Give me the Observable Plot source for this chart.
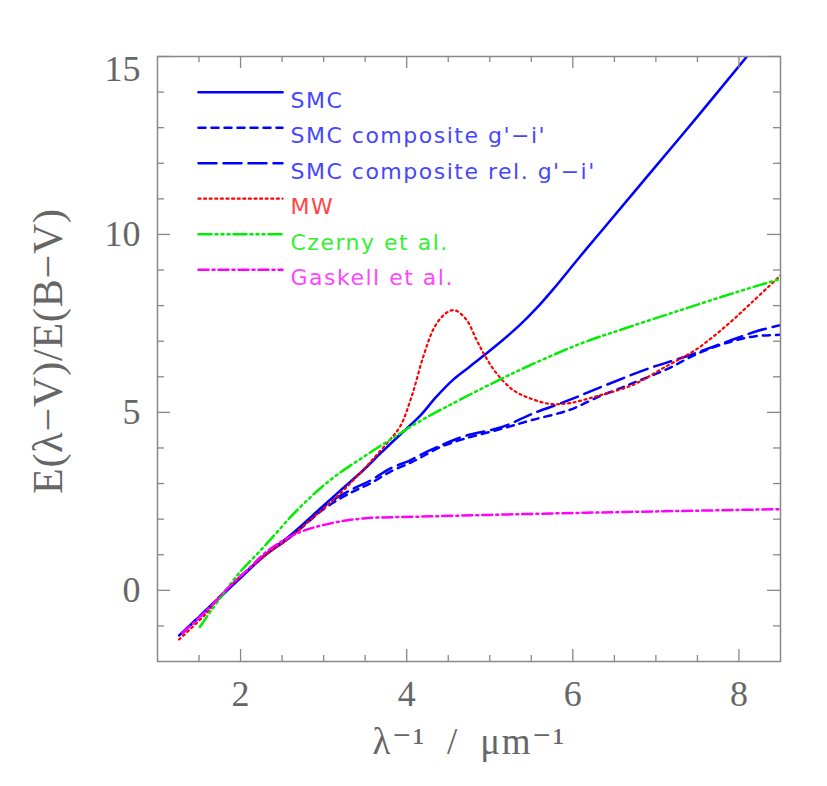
<!DOCTYPE html>
<html><head><meta charset="utf-8">
<script src="https://cdn.jsdelivr.net/npm/d3@7"></script>
<script src="https://cdn.jsdelivr.net/npm/@observablehq/plot@0.6"></script>
<style>body{margin:0;background:#fff} #chart{width:827px;height:786px}</style>
</head><body><div id="chart"></div>
<script>
// ---- data ----
const xSMC = [1.26,1.6,1.9,2.28,2.6,2.96,3.2,3.48,3.68,3.9,4.16,4.35,4.56,4.75,4.94,5.15,5.36,5.56,5.76,6.08,6.36,7.0,7.5,8.11,8.5];
const ySMC = [-1.27,-0.53,0.13,0.96,1.55,2.3,2.8,3.38,3.84,4.33,4.9,5.42,5.92,6.27,6.62,7.02,7.45,7.92,8.45,9.36,10.14,11.92,13.31,15.04,16.12];

const xComp = [1.3,1.6,1.9,2.28,2.6,3.04,3.36,3.56,3.8,4.04,4.16,4.4,4.68,5.16,5.5,5.96,6.32,6.52,6.72,7.12,7.52,7.92,8.2,8.5];
const yComp = [-1.2,-0.52,0.15,0.96,1.5,2.35,2.78,3.0,3.33,3.58,3.72,4.02,4.25,4.55,4.78,5.07,5.45,5.63,5.82,6.2,6.67,7.0,7.14,7.18];

const xCompRel = [1.3,1.6,1.9,2.28,2.6,3.04,3.36,3.56,3.8,4.04,4.16,4.4,4.68,5.16,5.5,5.96,6.4,6.92,7.36,7.92,8.24,8.5];
const yCompRel = [-1.2,-0.52,0.15,0.96,1.5,2.42,2.86,3.08,3.42,3.65,3.8,4.06,4.32,4.6,4.95,5.35,5.77,6.24,6.57,7.04,7.3,7.45];

const xMW = [1.26,1.6,1.82,2.28,2.6,2.9,3.16,3.36,3.56,3.76,3.92,4.06,4.2,4.34,4.48,4.58,4.72,4.84,4.94,5.08,5.28,5.48,5.72,5.96,6.28,6.72,7.12,7.48,7.84,8.15,8.5];
const yMW = [-1.38,-0.62,0,0.95,1.5,2.1,2.63,3.1,3.6,4.13,4.6,5.45,6.57,7.42,7.8,7.87,7.6,7.04,6.6,6.1,5.63,5.4,5.24,5.26,5.45,5.77,6.29,6.76,7.42,8.08,8.85];

const xCz = [1.51,1.6,1.72,1.96,2.28,2.68,3.08,3.48,3.8,4.12,4.48,5.28,6.08,6.64,7.28,8.0,8.5];
const yCz = [-1.03,-0.72,-0.33,0.42,1.22,2.25,3.1,3.75,4.23,4.7,5.16,6.1,6.92,7.37,7.86,8.4,8.75];

const xGa = [1.3,1.6,1.82,2.12,2.32,2.68,3.08,3.48,4.16,5.0,6.16,7.3,8.5];
const yGa = [-1.2,-0.55,0,0.66,1.1,1.6,1.88,2.02,2.07,2.12,2.18,2.23,2.28];

const seriesNames = ["SMC","SMC composite g'\u2212i'","SMC composite rel. g'\u2212i'","MW","Czerny et al.","Gaskell et al."];
const xTickMajor = [2,4,6,8];
const xTickMinor = [1.5,2.5,3,3.5,4.5,5,5.5,6.5,7,7.5];
const yTickMajor = [0,5,10,15];
const yTickMinor = [-1,1,2,3,4,6,7,8,9,11,12,13,14];
const xTitle = "\u03bb\u207b\u00b9  /  \u03bcm\u207b\u00b9";
const yTitle = "E(\u03bb\u2212V)/E(B\u2212V)";

// ---- styles ----
const seriesX = [xSMC, xComp, xCompRel, xMW, xCz, xGa];
const seriesY = [ySMC, yComp, yCompRel, yMW, yCz, yGa];
const lineColor = ["#0000ff","#0000ff","#0000ff","#ff0000","#00ee00","#ff00ff"];
const textColor = ["#4646ff","#4646ff","#4646ff","#ff4646","#33f033","#ff46ff"];
const dashes = [null,"7,6","18,7","2,3.6","13,4,2,4,2,4,2,4","10,4,2,4"];
const widths = [2.5,2.5,2.5,2.2,2.5,2.5];

const W = 827, H = 786, ML = 157, MR = 47, MT = 56, MB = 125;
const FW = W - ML - MR, FH = H - MT - MB;
const gray = "#888";
const serif = "'Liberation Serif','DejaVu Serif',serif";

const lineShape = {draw(context, l) { context.moveTo(0, 0); context.lineTo(0, -l); }};

const marks = [];
seriesNames.forEach((name, i) => {
  const pts = seriesX[i].map((x, j) => ({x, y: seriesY[i][j]}));
  marks.push(Plot.line(pts, {x: "x", y: "y", stroke: lineColor[i], strokeWidth: widths[i],
    strokeDasharray: dashes[i], curve: "catmull-rom", clip: true}));
});

// ticks (inside, all four sides)
marks.push(
  Plot.tickX(xTickMajor, {x: d => d, insetTop: FH - 12, stroke: gray, strokeWidth: 1.3}),
  Plot.tickX(xTickMajor, {x: d => d, insetBottom: FH - 12, stroke: gray, strokeWidth: 1.3}),
  Plot.tickX(xTickMinor, {x: d => d, insetTop: FH - 6, stroke: gray, strokeWidth: 1.3}),
  Plot.tickX(xTickMinor, {x: d => d, insetBottom: FH - 6, stroke: gray, strokeWidth: 1.3}),
  Plot.tickY(yTickMajor, {y: d => d, insetRight: FW - 13, stroke: gray, strokeWidth: 1.3}),
  Plot.tickY(yTickMajor, {y: d => d, insetLeft: FW - 13, stroke: gray, strokeWidth: 1.3}),
  Plot.tickY(yTickMinor, {y: d => d, insetRight: FW - 7, stroke: gray, strokeWidth: 1.3}),
  Plot.tickY(yTickMinor, {y: d => d, insetLeft: FW - 7, stroke: gray, strokeWidth: 1.3}),
  Plot.frame({stroke: gray, strokeWidth: 1.5})
);

// tick labels
const yLow = yTickMajor.slice(0, -1), yTop = yTickMajor.slice(-1);
marks.push(
  Plot.text(xTickMajor, {x: d => d, frameAnchor: "bottom", dy: 44, text: d => String(d),
    fontSize: 36, fontFamily: serif, fill: "#666"}),
  Plot.text(yLow, {y: d => d, frameAnchor: "left", textAnchor: "end", dx: -17, text: d => String(d),
    fontSize: 36, fontFamily: serif, fill: "#666"}),
  Plot.text(yTop, {y: d => d, frameAnchor: "left", textAnchor: "end", dx: -17, dy: 13, text: d => String(d),
    fontSize: 36, fontFamily: serif, fill: "#666"}),
  Plot.text([xTitle], {frameAnchor: "bottom", dy: 92, text: d => d, fontSize: 37, fontFamily: serif, fill: "#666"}),
  Plot.text([yTitle], {frameAnchor: "left", textAnchor: "middle", dx: -109, dy: -8, rotate: -90, text: d => d,
    fontSize: 42, fontFamily: serif, fill: "#666"})
);

// legend
seriesNames.forEach((name, i) => {
  const dy = 35.7 + 35.5 * i;
  marks.push(
    Plot.vector([name], {frameAnchor: "top-left", dx: 41, dy, rotate: 90, length: 84, anchor: "start",
      shape: lineShape, stroke: lineColor[i], strokeWidth: widths[i], strokeDasharray: dashes[i]}),
    Plot.text([name], {frameAnchor: "top-left", dx: 133, dy, textAnchor: "start", text: d => d,
      fontSize: 22, fontFamily: "'DejaVu Sans',sans-serif", fill: textColor[i]})
  );
});

const chart = Plot.plot({
  width: W, height: H,
  marginLeft: ML, marginRight: MR, marginTop: MT, marginBottom: MB,
  x: {domain: [1, 8.5], axis: null},
  y: {domain: [-2, 15], axis: null},
  style: {background: "#fff"},
  marks
});
d3.select(chart).selectAll("text").each(function() {
  const t = this.textContent;
  if (seriesNames.includes(t)) this.setAttribute("letter-spacing", "1.5");
  if (t === yTitle) this.setAttribute("letter-spacing", "0.8");
  if (t === xTitle) this.setAttribute("letter-spacing", "1.5");
});
document.getElementById("chart").appendChild(chart);
</script>
</body></html>
